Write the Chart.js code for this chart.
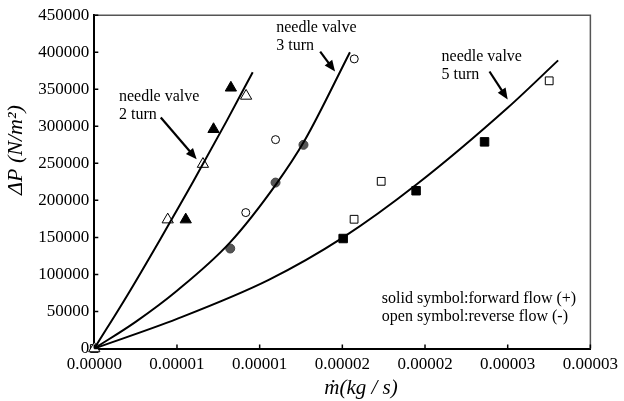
<!DOCTYPE html>
<html>
<head>
<meta charset="UTF-8">
<title>Needle valve pressure drop</title>
<style>
  body { margin: 0; background: #fff; }
</style>
</head>
<body>
<canvas id="chart" width="624" height="401"></canvas>

<script src="https://cdn.jsdelivr.net/npm/chart.js@4.4.0/dist/chart.umd.min.js"></script>

<script>
// fitted curves
const curve2TurnX = [0, 2e-6, 4e-6, 6e-6, 8e-6, 9.58e-6];
const curve2TurnY = [0, 72000, 148000, 226000, 307000, 373000];
const curve3TurnX = [0, 2.5e-6, 5e-6, 8.2e-6, 1.1e-5, 1.27e-5, 1.546e-5];
const curve3TurnY = [0, 36000, 78000, 143000, 222000, 280000, 400000];
const curve5TurnX = [0, 5.0e-6, 1.058e-5, 1.505e-5, 1.952e-5, 2.5e-5, 2.805e-5];
const curve5TurnY = [0, 40000, 93000, 150000, 222000, 325000, 389000];

// measured points: forward flow (solid) and reverse flow (open)
const fwd2TurnX = [5.53e-6, 7.21e-6, 8.26e-6];
const fwd2TurnY = [174000, 296000, 352000];
const rev2TurnX = [0, 4.44e-6, 6.57e-6, 9.18e-6];
const rev2TurnY = [0, 174000, 249000, 341000];
const fwd3TurnX = [8.22e-6, 1.096e-5, 1.265e-5];
const fwd3TurnY = [135000, 224000, 275000];
const rev3TurnX = [9.16e-6, 1.096e-5, 1.572e-5];
const rev3TurnY = [183500, 282000, 391000];
const fwd5TurnX = [1.505e-5, 1.946e-5, 2.36e-5];
const fwd5TurnY = [148500, 213000, 279000];
const rev5TurnX = [0, 1.571e-5, 1.735e-5, 2.751e-5];
const rev5TurnY = [0, 174500, 225700, 361400];

const xTickValues = [0, 5e-6, 1e-5, 1.5e-5, 2e-5, 2.5e-5, 3e-5];
const xTickLabels = ['0.00000', '0.00001', '0.00001', '0.00002', '0.00002', '0.00003', '0.00003'];
const yTickValues = [0, 50000, 100000, 150000, 200000, 250000, 300000, 350000, 400000, 450000];
const yTickLabels = ['0', '50000', '100000', '150000', '200000', '250000', '300000', '350000', '400000', '450000'];

const notes = [
  { lines: ['needle valve', '2 turn'], x: 1.49e-6, y: 340300 },
  { lines: ['needle valve', '3 turn'], x: 1.1e-5, y: 433300 },
  { lines: ['needle valve', '5 turn'], x: 2.1e-5, y: 394200 },
  { lines: ['solid symbol:forward flow (+)', 'open symbol:reverse flow (-)'], x: 1.739e-5, y: 66700 }
];
const arrows = [
  { from: [4.02e-6, 312000], to: [6.19e-6, 255400] },
  { from: [1.366e-5, 400900], to: [1.456e-5, 374000] },
  { from: [2.39e-5, 374000], to: [2.5e-5, 336300] }
];

const FONT = '"Liberation Serif", "Times New Roman", serif';

function pts(xs, ys) {
  return xs.map((x, i) => ({ x: x, y: ys[i] }));
}

function curve(xs, ys) {
  return {
    data: pts(xs, ys),
    showLine: true,
    borderColor: '#000',
    borderWidth: 2,
    pointRadius: 0,
    cubicInterpolationMode: 'monotone',
    fill: false
  };
}

function markers(xs, ys, style, radius, fill, border) {
  return {
    data: pts(xs, ys),
    showLine: false,
    pointStyle: style,
    pointRadius: radius,
    pointBackgroundColor: fill,
    pointBorderColor: border,
    pointBorderWidth: 1,
    clip: false
  };
}

const decorations = {
  id: 'decorations',
  afterDraw(chart) {
    const ctx = chart.ctx;
    const xs = chart.scales.x, ys = chart.scales.y;
    const a = chart.chartArea;
    ctx.save();

    // top and right frame
    ctx.strokeStyle = '#555';
    ctx.lineWidth = 1.5;
    ctx.beginPath();
    ctx.moveTo(a.left, a.top);
    ctx.lineTo(a.right, a.top);
    ctx.lineTo(a.right, a.bottom);
    ctx.stroke();

    // inward tick marks
    ctx.strokeStyle = '#000';
    ctx.lineWidth = 1.5;
    ctx.beginPath();
    xTickValues.forEach(v => {
      const px = xs.getPixelForValue(v);
      ctx.moveTo(px, a.bottom);
      ctx.lineTo(px, a.bottom - 4);
    });
    yTickValues.forEach(v => {
      const py = ys.getPixelForValue(v);
      ctx.moveTo(a.left, py);
      ctx.lineTo(a.left + 4, py);
    });
    ctx.stroke();

    // labels
    ctx.fillStyle = '#000';
    ctx.font = '16px ' + FONT;
    ctx.textAlign = 'left';
    ctx.textBaseline = 'middle';
    notes.forEach(n => {
      const px = xs.getPixelForValue(n.x);
      const py = ys.getPixelForValue(n.y);
      n.lines.forEach((t, i) => ctx.fillText(t, px, py + i * 18));
    });

    // arrows
    arrows.forEach(ar => {
      const x1 = xs.getPixelForValue(ar.from[0]), y1 = ys.getPixelForValue(ar.from[1]);
      const x2 = xs.getPixelForValue(ar.to[0]), y2 = ys.getPixelForValue(ar.to[1]);
      const ang = Math.atan2(y2 - y1, x2 - x1);
      const head = 12;
      ctx.lineWidth = 2.2;
      ctx.beginPath();
      ctx.moveTo(x1, y1);
      ctx.lineTo(x2 - Math.cos(ang) * head * 0.8, y2 - Math.sin(ang) * head * 0.8);
      ctx.stroke();
      ctx.beginPath();
      ctx.moveTo(x2, y2);
      ctx.lineTo(x2 - head * Math.cos(ang - 0.4), y2 - head * Math.sin(ang - 0.4));
      ctx.lineTo(x2 - head * Math.cos(ang + 0.4), y2 - head * Math.sin(ang + 0.4));
      ctx.closePath();
      ctx.fill();
    });

    // axis titles
    ctx.font = 'italic 22px ' + FONT;
    ctx.textAlign = 'center';
    ctx.save();
    ctx.translate(16, 150);
    ctx.rotate(-Math.PI / 2);
    ctx.fillText('\u0394P (N/m\u00B2)', 0, 0);
    ctx.restore();
    ctx.font = 'italic 21px ' + FONT;
    ctx.fillText('\u1E41(kg / s)', 361, 388);

    ctx.restore();
  }
};

new Chart(document.getElementById('chart'), {
  type: 'scatter',
  data: {
    datasets: [
      curve(curve2TurnX, curve2TurnY),
      curve(curve3TurnX, curve3TurnY),
      curve(curve5TurnX, curve5TurnY),
      markers(rev2TurnX, rev2TurnY, 'triangle', 6.5, '#fff', '#000'),
      markers(fwd2TurnX, fwd2TurnY, 'triangle', 6.5, '#000', '#000'),
      markers(rev3TurnX, rev3TurnY, 'circle', 4, '#fff', '#000'),
      markers(fwd3TurnX, fwd3TurnY, 'circle', 4.5, '#555', '#444'),
      markers(rev5TurnX, rev5TurnY, 'rect', 5.5, '#fff', '#000'),
      markers(fwd5TurnX, fwd5TurnY, 'rect', 6, '#000', '#000')
    ]
  },
  options: {
    responsive: false,
    animation: false,
    layout: { padding: { top: 15, right: 32, left: 0, bottom: 0 } },
    plugins: {
      legend: { display: false },
      tooltip: { enabled: false }
    },
    scales: {
      x: {
        type: 'linear',
        min: 0,
        max: 3e-5,
        afterBuildTicks: s => { s.ticks = xTickValues.map(v => ({ value: v })); },
        afterFit: s => { s.height = 52.5; },
        grid: { display: true, drawOnChartArea: false, drawTicks: false },
        border: { display: true, color: '#000', width: 2 },
        ticks: {
          padding: 6,
          color: '#000',
          maxRotation: 0,
          font: { family: FONT, size: 17 },
          callback: (v, i) => xTickLabels[i]
        }
      },
      y: {
        type: 'linear',
        min: 0,
        max: 450000,
        afterBuildTicks: s => { s.ticks = yTickValues.map(v => ({ value: v })); },
        afterFit: s => { s.width = 94.3; },
        grid: { display: true, drawOnChartArea: false, drawTicks: false },
        border: { display: true, color: '#000', width: 2 },
        ticks: {
          padding: 5,
          color: '#000',
          font: { family: FONT, size: 17 },
          callback: (v, i) => yTickLabels[i]
        }
      }
    }
  },
  plugins: [decorations]
});
</script>
</body>
</html>
